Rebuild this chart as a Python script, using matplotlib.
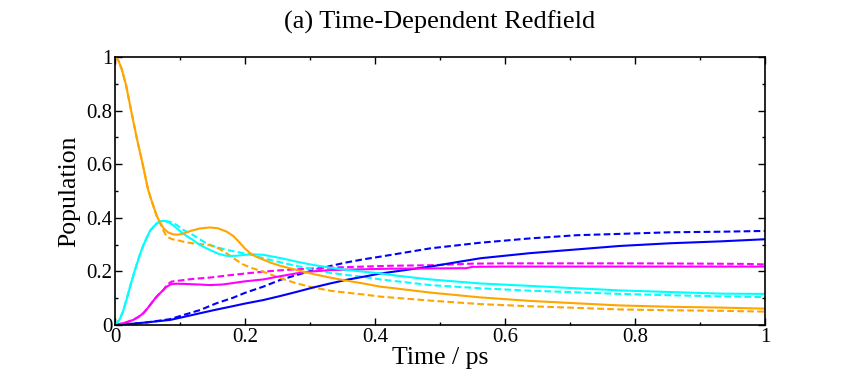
import matplotlib
matplotlib.use("Agg")
import matplotlib.pyplot as plt
from matplotlib.ticker import MultipleLocator, FuncFormatter

# ---- data (time in ps, population) ----
t_orange = [0, 0.005, 0.0103, 0.017, 0.024, 0.033, 0.0426, 0.051, 0.056, 0.064, 0.069, 0.075,
            0.082, 0.09, 0.097, 0.105, 0.115, 0.13, 0.146, 0.158, 0.172, 0.182, 0.19, 0.2, 0.21,
            0.22, 0.228, 0.24, 0.254, 0.28, 0.305, 0.331, 0.355, 0.382, 0.408, 0.423, 0.485, 0.562,
            0.638, 0.71, 0.777, 0.854, 0.931, 1.0]
p_orange = [1.0, 0.988, 0.955, 0.895, 0.81, 0.703, 0.6, 0.504, 0.466, 0.408, 0.384, 0.36,
            0.345, 0.338, 0.337, 0.341, 0.35, 0.36, 0.364, 0.361, 0.348, 0.332, 0.312, 0.285,
            0.264, 0.252, 0.244, 0.232, 0.221, 0.205, 0.19, 0.177, 0.166, 0.155, 0.143, 0.139,
            0.121, 0.103, 0.09, 0.081, 0.073, 0.068, 0.065, 0.061]

t_orange_d = [0, 0.005, 0.0103, 0.017, 0.024, 0.033, 0.0426, 0.051, 0.056, 0.064, 0.069, 0.075,
              0.0795, 0.088, 0.095, 0.11, 0.12, 0.135, 0.146, 0.16, 0.172, 0.185, 0.197, 0.21,
              0.228, 0.254, 0.28, 0.305, 0.331, 0.355, 0.382, 0.408, 0.423, 0.485, 0.562, 0.638,
              0.71, 0.777, 0.854, 0.931, 1.0]
p_orange_d = [1.0, 0.988, 0.955, 0.895, 0.81, 0.703, 0.6, 0.504, 0.466, 0.408, 0.382, 0.35,
              0.33, 0.32, 0.317, 0.308, 0.305, 0.301, 0.298, 0.285, 0.267, 0.245, 0.226, 0.213,
              0.199, 0.175, 0.155, 0.14, 0.128, 0.121, 0.114, 0.106, 0.103, 0.091, 0.078, 0.07,
              0.064, 0.058, 0.055, 0.053, 0.05]

t_cyan = [0, 0.0067, 0.012, 0.018, 0.024, 0.03, 0.037, 0.0436, 0.054, 0.064, 0.07, 0.076, 0.085,
          0.095, 0.105, 0.12, 0.131, 0.146, 0.16, 0.172, 0.185, 0.197, 0.21, 0.228, 0.254, 0.28,
          0.305, 0.331, 0.355, 0.382, 0.408, 0.423, 0.485, 0.562, 0.638, 0.71, 0.777, 0.854,
          0.931, 1.0]
p_cyan = [0, 0.019, 0.048, 0.097, 0.15, 0.2, 0.253, 0.298, 0.352, 0.379, 0.387, 0.389, 0.38,
          0.361, 0.34, 0.317, 0.298, 0.28, 0.265, 0.258, 0.258, 0.261, 0.264, 0.262, 0.25, 0.236,
          0.224, 0.214, 0.206, 0.199, 0.193, 0.187, 0.17, 0.155, 0.146, 0.137, 0.129, 0.123,
          0.117, 0.116]

t_cyan_d = [0, 0.0067, 0.012, 0.018, 0.024, 0.03, 0.037, 0.0436, 0.054, 0.064, 0.07, 0.078,
            0.087, 0.095, 0.105, 0.12, 0.135, 0.146, 0.16, 0.172, 0.185, 0.197, 0.21, 0.228,
            0.254, 0.28, 0.305, 0.331, 0.355, 0.382, 0.408, 0.423, 0.485, 0.562, 0.638, 0.71,
            0.777, 0.854, 0.931, 1.0]
p_cyan_d = [0, 0.019, 0.048, 0.097, 0.15, 0.2, 0.253, 0.298, 0.352, 0.379, 0.387, 0.388,
            0.384, 0.373, 0.355, 0.336, 0.313, 0.299, 0.288, 0.28, 0.274, 0.268, 0.262, 0.249,
            0.234, 0.22, 0.207, 0.195, 0.187, 0.18, 0.17, 0.166, 0.149, 0.137, 0.128, 0.122,
            0.116, 0.111, 0.107, 0.104]

t_magenta = [0, 0.004, 0.015, 0.028, 0.036, 0.0436, 0.05, 0.056, 0.062, 0.069, 0.0745, 0.0795,
             0.087, 0.095, 0.11, 0.13, 0.146, 0.165, 0.177, 0.2, 0.228, 0.254, 0.28, 0.305,
             0.331, 0.382, 0.423, 0.485, 0.54, 0.55, 0.6, 0.7, 0.8, 0.9, 1.0]
p_magenta = [0, 0.002, 0.008, 0.019, 0.03, 0.044, 0.062, 0.081, 0.1, 0.118, 0.131, 0.143,
             0.153, 0.154, 0.153, 0.151, 0.149, 0.151, 0.155, 0.163, 0.17, 0.182, 0.193, 0.2,
             0.205, 0.208, 0.21, 0.211, 0.212, 0.217, 0.218, 0.218, 0.218, 0.218, 0.218]

t_magenta_d = [0, 0.004, 0.015, 0.028, 0.036, 0.0436, 0.05, 0.056, 0.062, 0.069, 0.0745, 0.08,
               0.087, 0.1, 0.12, 0.146, 0.177, 0.2, 0.228, 0.254, 0.28, 0.331, 0.382, 0.423,
               0.485, 0.55, 0.6, 0.7, 0.8, 0.9, 0.97, 1.0]
p_magenta_d = [0, 0.002, 0.008, 0.019, 0.03, 0.044, 0.062, 0.081, 0.1, 0.118, 0.131, 0.15,
               0.162, 0.166, 0.172, 0.177, 0.186, 0.192, 0.199, 0.204, 0.208, 0.214, 0.218, 0.221,
               0.223, 0.229, 0.23, 0.23, 0.23, 0.229, 0.228, 0.226]

t_blue = [0, 0.023, 0.05, 0.085, 0.1, 0.131, 0.155, 0.177, 0.2, 0.228, 0.254, 0.28, 0.305,
          0.331, 0.355, 0.382, 0.408, 0.423, 0.485, 0.562, 0.638, 0.71, 0.777, 0.854, 0.931, 1.0]
p_blue = [0, 0.004, 0.01, 0.019, 0.027, 0.044, 0.057, 0.068, 0.08, 0.093, 0.108, 0.124, 0.14,
          0.155, 0.168, 0.18, 0.192, 0.197, 0.218, 0.249, 0.268, 0.282, 0.295, 0.305, 0.312, 0.32]

t_blue_d = [0, 0.023, 0.05, 0.085, 0.105, 0.131, 0.156, 0.182, 0.2, 0.228, 0.254, 0.28, 0.305,
            0.331, 0.355, 0.382, 0.408, 0.423, 0.485, 0.562, 0.638, 0.71, 0.777, 0.854, 0.931, 1.0]
p_blue_d = [0, 0.004, 0.01, 0.022, 0.037, 0.056, 0.081, 0.102, 0.12, 0.143, 0.168, 0.187, 0.204,
            0.22, 0.233, 0.245, 0.255, 0.261, 0.286, 0.307, 0.323, 0.335, 0.34, 0.346, 0.348, 0.351]

series = [
    (t_blue, p_blue, t_blue_d, p_blue_d, "#0000ff"),
    (t_magenta, p_magenta, t_magenta_d, p_magenta_d, "#ff00ff"),
    (t_cyan, p_cyan, t_cyan_d, p_cyan_d, "#00ffff"),
    (t_orange, p_orange, t_orange_d, p_orange_d, "#ffa500"),
]

title = "(a) Time-Dependent Redfield"
xlabel = "Time / ps"
ylabel = "Population"

plt.rcParams['font.family'] = ['Liberation Serif', 'DejaVu Serif']

fig = plt.figure(figsize=(8.41, 3.82), dpi=100)
ax = fig.add_axes([115/841, 1 - 325/382, 650/841, 268/382])

for ts, ps, td, pd_, c in series:
    ax.plot(td, pd_, color=c, lw=1.5, linestyle=(0, (3.2, 1.6)))
for ts, ps, td, pd_, c in series:
    ax.plot(ts, ps, color=c, lw=1.5)

ax.set_xlim(0, 1)
ax.set_ylim(0, 1)
ax.xaxis.set_major_locator(MultipleLocator(0.2))
ax.xaxis.set_minor_locator(MultipleLocator(0.1))
ax.yaxis.set_major_locator(MultipleLocator(0.2))
ax.yaxis.set_minor_locator(MultipleLocator(0.1))
fmt = FuncFormatter(lambda v, pos: ("%g" % round(v, 3)))
ax.xaxis.set_major_formatter(fmt)
ax.yaxis.set_major_formatter(fmt)
ax.tick_params(which='both', direction='in', top=True, right=True, labelsize=15, width=1.0)
ax.tick_params(which='major', length=5, pad=2)
ax.tick_params(which='minor', length=2.5)
for s in ax.spines.values():
    s.set_linewidth(1.2)

ax.set_xlabel(xlabel, fontsize=18.5, labelpad=0)
ax.set_ylabel(ylabel, fontsize=18.5, labelpad=4)
fig.text(440/841, 1 - 22/382, title, fontsize=19, ha='center', va='center')

fig.savefig("out.png", dpi=100)
